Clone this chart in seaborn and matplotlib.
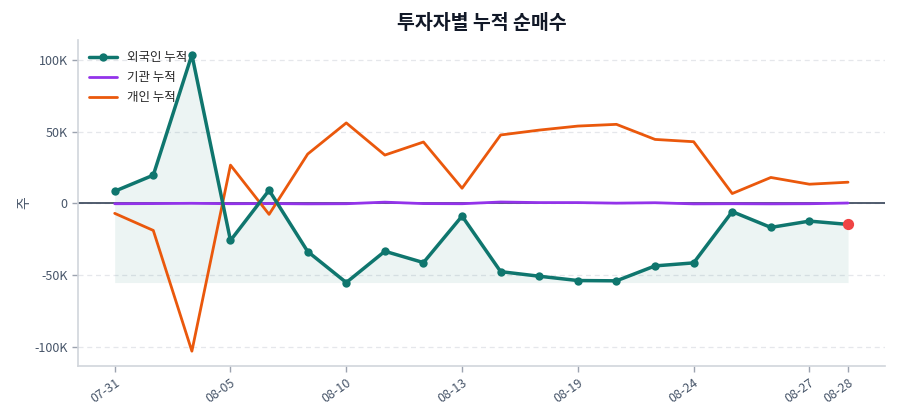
import matplotlib
matplotlib.use("Agg")
import matplotlib.pyplot as plt
import seaborn as sns
import numpy as np
import pandas as pd

dates = ["07-31", "08-03", "08-04", "08-05", "08-06", "08-07", "08-10", "08-11",
         "08-12", "08-13", "08-14", "08-18", "08-19", "08-20", "08-21", "08-24",
         "08-25", "08-26", "08-27", "08-28"]
foreign = [8.4, 19.6, 103.5, -25.9, 9.1, -33.6, -55.2, -33.4, -41.3, -8.9,
           -47.6, -50.8, -53.8, -54.0, -43.6, -41.5, -5.8, -16.8, -12.4, -14.7]
institution = [-0.3, -0.2, 0.0, -0.3, -0.2, -0.4, -0.3, 0.8, -0.2, -0.3,
               0.9, 0.5, 0.5, 0.1, 0.4, -0.4, -0.3, -0.4, -0.3, 0.2]
individual = [-7.0, -18.9, -103.0, 26.6, -7.7, 34.3, 56.0, 33.6, 42.7, 10.5,
              47.6, 51.0, 53.8, 55.0, 44.5, 42.9, 6.8, 18.0, 13.3, 14.7]
tick_idx = [0, 3, 6, 9, 12, 15, 18, 19]

scale = 1000
df = pd.DataFrame({
    "x": np.arange(len(dates)),
    "foreign": np.array(foreign) * scale,
    "institution": np.array(institution) * scale,
    "individual": np.array(individual) * scale,
})

sns.set_theme(style="white")
plt.rcParams["font.family"] = ["Noto Sans CJK KR", "DejaVu Sans"]

fig = plt.figure(figsize=(9, 4.2), dpi=100)
ax = fig.add_axes([0.0867, 0.1286, 0.8963, 0.7764])

teal = "#0f766e"
purple = "#9333ea"
orange = "#ea580c"

ax.fill_between(df["x"], df["foreign"], df["foreign"].min(), color=teal, alpha=0.08, linewidth=0)
sns.lineplot(data=df, x="x", y="foreign", ax=ax, color=teal, linewidth=2.5,
             marker="o", markersize=6, markeredgewidth=0, label="외국인 누적", zorder=4)
sns.lineplot(data=df, x="x", y="institution", ax=ax, color=purple, linewidth=2,
             label="기관 누적", zorder=3)
sns.lineplot(data=df, x="x", y="individual", ax=ax, color=orange, linewidth=2,
             label="개인 누적", zorder=3)
ax.axhline(0, color="#334155", linewidth=1.2, zorder=2)
ax.scatter([df["x"].iloc[-1]], [df["foreign"].iloc[-1]], s=50, color="#ef4444", zorder=5)

ax.margins(x=0.05, y=0.05)
ax.set_xticks(tick_idx)
ax.set_xticklabels([dates[i] for i in tick_idx], rotation=35, ha="right",
                   rotation_mode="anchor", fontsize=9, color="#475569")
ax.set_yticks([-100000, -50000, 0, 50000, 100000])
ax.set_yticklabels(["-100K", "-50K", "0", "50K", "100K"], fontsize=9, color="#475569")
ax.tick_params(axis="both", length=4, color="#9ca3af", width=1, left=True, bottom=True)
ax.set_xlabel("")
ax.set_ylabel("주", fontsize=10, color="#475569", labelpad=2)
ax.set_title("투자자별 누적 순매수", fontsize=14, fontweight="bold", color="#111827", pad=8)

ax.yaxis.grid(True, linestyle=(0, (4, 3)), color="#e5e7eb", linewidth=0.9)
ax.set_axisbelow(True)
for s in ["top", "right"]:
    ax.spines[s].set_visible(False)
for s in ["left", "bottom"]:
    ax.spines[s].set_color("#d1d5db")
    ax.spines[s].set_linewidth(1.2)

leg = ax.legend(loc="upper left", frameon=False, fontsize=9, handlelength=2.2,
                borderaxespad=0.5, labelspacing=0.55)

fig.savefig("out.png", dpi=100)
